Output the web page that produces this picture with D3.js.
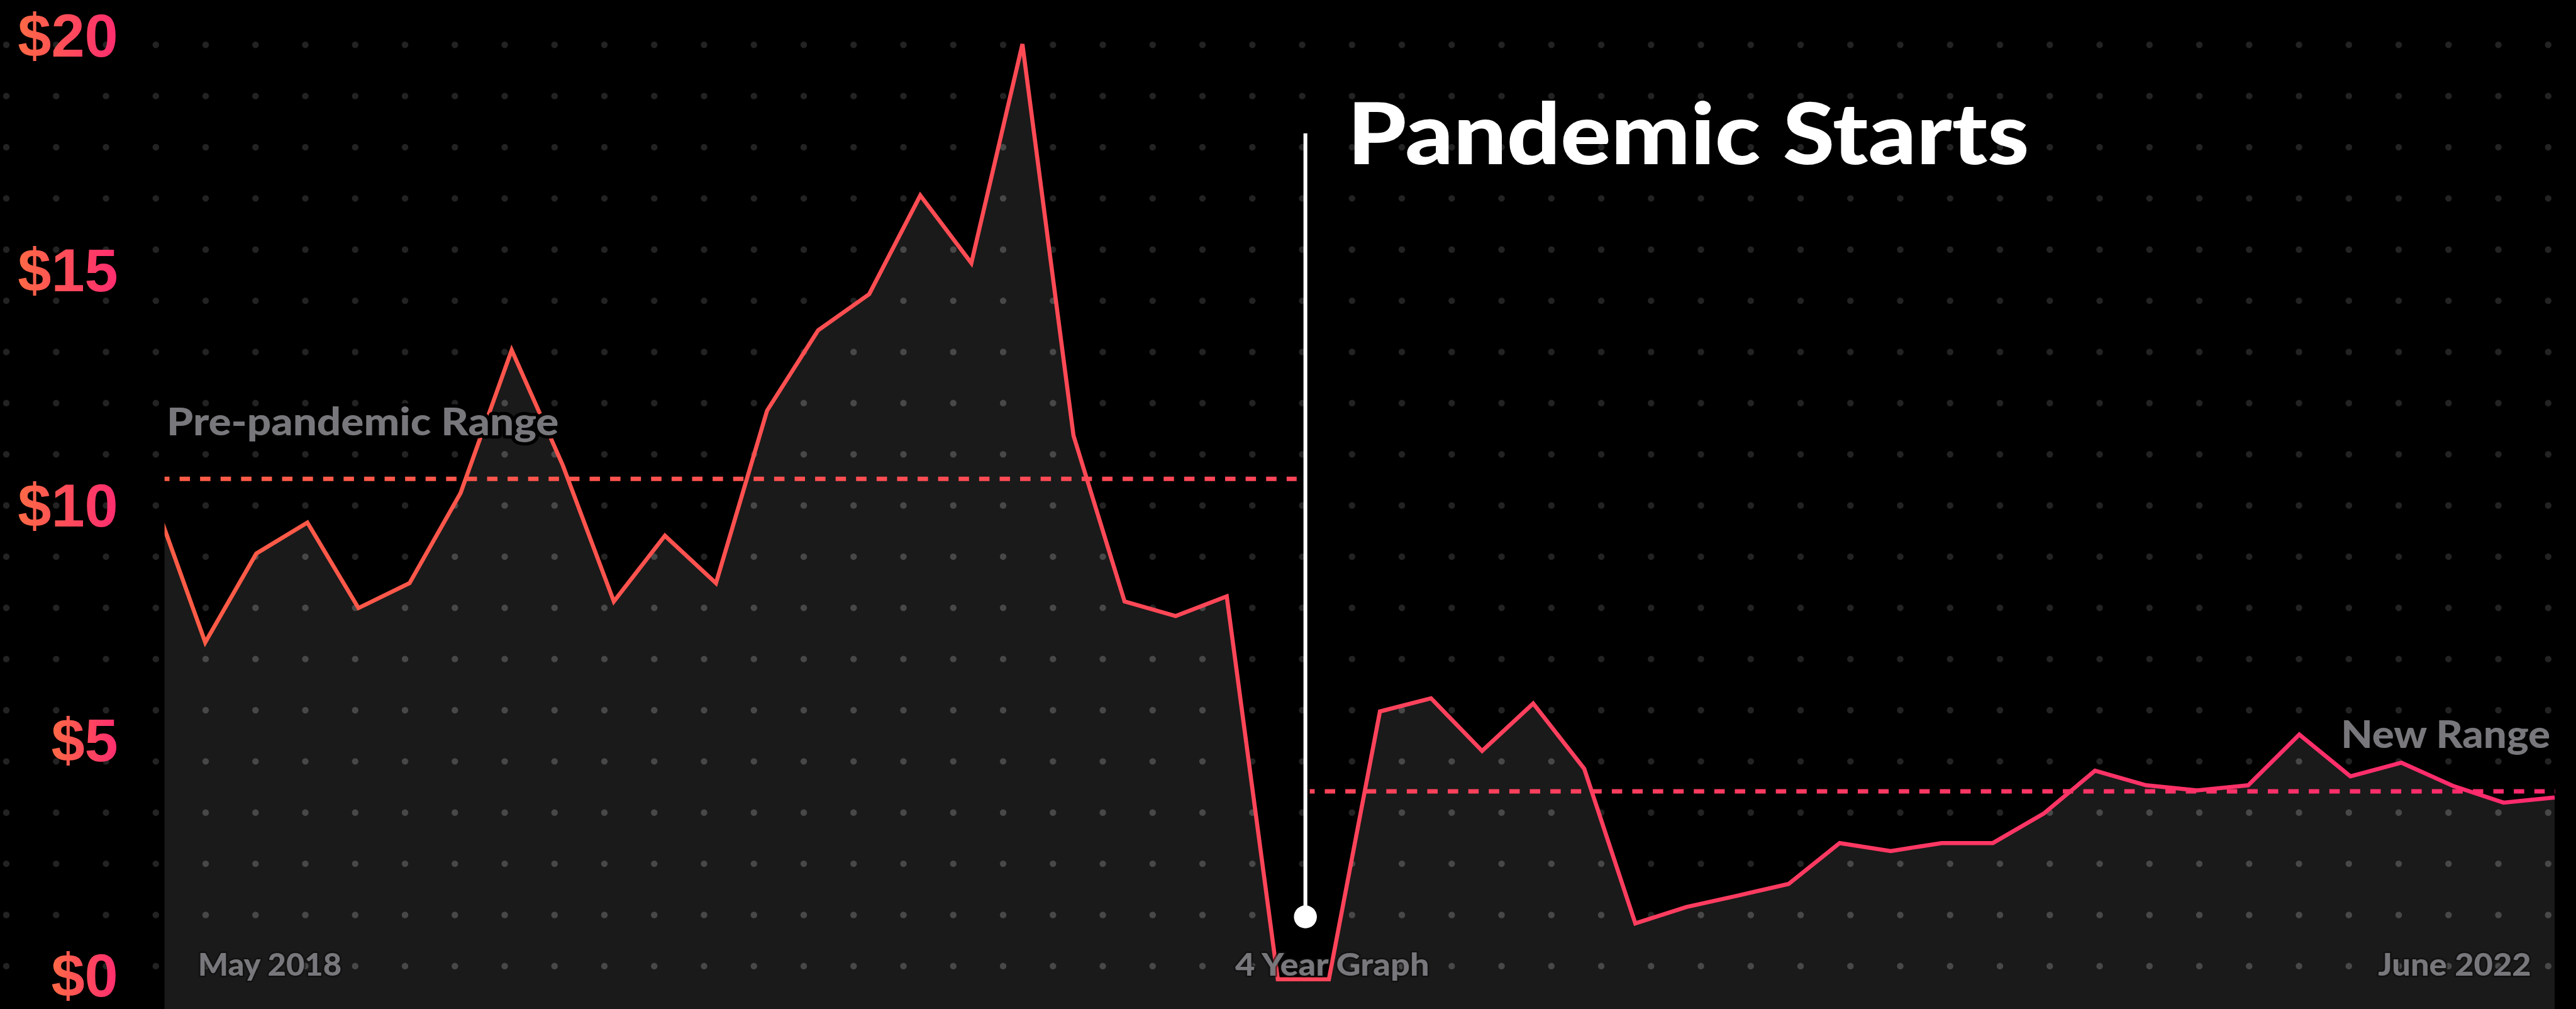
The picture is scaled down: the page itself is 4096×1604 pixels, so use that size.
<!DOCTYPE html>
<html>
<head>
<meta charset="utf-8"/>
<script src="https://d3js.org/d3.v7.min.js"></script>
<style>
body { margin: 0; background: #000; overflow: hidden; }
text { font-family: Lato, "Open Sans", sans-serif; font-weight: 900; }
text.tick { font-family: "Liberation Sans", Arial, sans-serif; font-weight: 700; }
</style>
</head>
<body>
<script>
// everything was measured on a 4712px wide picture, k scales it to the window
var width = 4096,
    height = 1604,
    k = width / 4712;

// monthly price, one point per month
var values = [10.2, 7.17, 9.06, 9.72, 7.9, 8.43, 10.35, 13.39, 10.94, 8.04,
              9.44, 8.43, 12.1, 13.81, 14.58, 16.68, 15.24, 19.9, 11.57, 8.04,
              7.73, 8.15, 0, 0, 5.7, 5.98, 4.86, 5.87, 4.48, 1.19,
              1.54, 1.78, 2.03, 2.9, 2.73, 2.9, 2.9, 3.53, 4.44, 4.13,
              4.02, 4.13, 5.21, 4.32, 4.61, 4.12, 3.76, 3.87];
var yTicks = [0, 5, 10, 15, 20];
var rangeLabels = ["Pre-pandemic Range", "New Range"];
var rangeValues = [10.65, 4.0];
var dateLabels = ["May 2018", "4 Year Graph", "June 2022"];
var pandemicIndex = 22.54,
    pandemicTop = 18,
    pandemicBottom = 1.33,
    pandemicLabel = "Pandemic Starts";

var x = d3.scaleLinear()
          .domain([0, values.length - 1])
          .range([282 * k, 4673 * k]);

var y = d3.scaleLinear()
          .domain([0, 20])
          .range([1791 * k, 72 * k]);

var plotLeft = 301 * k,
    plotRight = 4678 * k;

var svg = d3.select("body")
            .append("svg")
            .attr("width", width)
            .attr("height", height);

var defs = svg.append("defs");

// line + dashes fade from orange (left) to pink (right)
var lineGrad = defs.append("linearGradient")
                   .attr("id", "lineGrad")
                   .attr("gradientUnits", "userSpaceOnUse")
                   .attr("x1", plotLeft).attr("x2", plotRight)
                   .attr("y1", 0).attr("y2", 0);
lineGrad.append("stop").attr("offset", "0%").attr("stop-color", "#ff5c46");
lineGrad.append("stop").attr("offset", "100%").attr("stop-color", "#ff2a6e");

// same fade inside each tick label
var labelGrad = defs.append("linearGradient")
                    .attr("id", "labelGrad")
                    .attr("x1", "0%").attr("x2", "100%");
labelGrad.append("stop").attr("offset", "0%").attr("stop-color", "#ff6a45");
labelGrad.append("stop").attr("offset", "100%").attr("stop-color", "#ff2c70");

defs.append("clipPath")
    .attr("id", "plotClip")
    .append("rect")
    .attr("x", plotLeft)
    .attr("y", 0)
    .attr("width", plotRight - plotLeft)
    .attr("height", height);

var area = d3.area()
             .x(function(d, i) { return x(i); })
             .y0(height)
             .y1(function(d) { return y(d); });

var line = d3.line()
             .x(function(d, i) { return x(i); })
             .y(function(d) { return y(d); });

defs.append("clipPath")
    .attr("id", "areaClip")
    .append("path")
    .datum(values)
    .attr("d", area);

svg.append("rect")
   .attr("width", width)
   .attr("height", height)
   .attr("fill", "#000");

// dot grid
var cols = d3.range(52).map(function(i) { return (11.5 + i * 91.17) * k; }),
    rows = d3.range(19).map(function(j) { return (82 + j * 93.6) * k; });
var grid = [];
rows.forEach(function(ry) { cols.forEach(function(cx) { grid.push([cx, ry]); }); });

svg.append("g")
   .selectAll("circle")
   .data(grid)
   .enter()
   .append("circle")
   .attr("cx", function(d) { return d[0]; })
   .attr("cy", function(d) { return d[1]; })
   .attr("r", 6 * k)
   .attr("fill", "#232323");

var plot = svg.append("g").attr("clip-path", "url(#plotClip)");

plot.append("path")
    .datum(values)
    .attr("d", area)
    .attr("fill", "#1a1a1a");

// brighter dots where the area is
plot.append("g")
    .attr("clip-path", "url(#areaClip)")
    .selectAll("circle")
    .data(grid)
    .enter()
    .append("circle")
    .attr("cx", function(d) { return d[0]; })
    .attr("cy", function(d) { return d[1]; })
    .attr("r", 6 * k)
    .attr("fill", "#484848");

// range lines: before and after the pandemic marker
var px = x(pandemicIndex);
var rangeExtents = [[plotLeft, px - 16 * k], [px + 8 * k, 4674 * k]];

svg.append("g")
   .selectAll("line")
   .data(rangeValues)
   .enter()
   .append("line")
   .attr("x1", function(d, i) { return rangeExtents[i][0]; })
   .attr("x2", function(d, i) { return rangeExtents[i][1]; })
   .attr("y1", function(d) { return y(d); })
   .attr("y2", function(d) { return y(d); })
   .attr("stroke", "url(#lineGrad)")
   .attr("stroke-width", 8 * k)
   .attr("stroke-dasharray", (19 * k) + "," + (18.5 * k))
   .attr("stroke-dashoffset", 10 * k);

plot.append("path")
    .datum(values)
    .attr("d", line)
    .attr("fill", "none")
    .attr("stroke", "url(#lineGrad)")
    .attr("stroke-width", 7.5 * k)
    .attr("stroke-linejoin", "miter");

// pandemic marker
svg.append("line")
   .attr("x1", px).attr("x2", px)
   .attr("y1", y(pandemicTop))
   .attr("y2", y(pandemicBottom))
   .attr("stroke", "#fff")
   .attr("stroke-width", 7 * k);

svg.append("circle")
   .attr("cx", px)
   .attr("cy", y(pandemicBottom))
   .attr("r", 21 * k)
   .attr("fill", "#fff");

svg.append("text")
   .attr("x", px + 77 * k)
   .attr("y", 300 * k)
   .attr("font-size", 155 * k)
   .attr("textLength", 1247 * k)
   .attr("lengthAdjust", "spacingAndGlyphs")
   .attr("fill", "#fff")
   .text(pandemicLabel);

// y tick labels
svg.append("g")
   .selectAll("text")
   .data(yTicks)
   .enter()
   .append("text")
   .attr("class", "tick")
   .attr("x", 216 * k)
   .attr("y", function(d) { return y(d) + 31 * k; })
   .attr("text-anchor", "end")
   .attr("font-size", 110 * k)
   .attr("fill", "url(#labelGrad)")
   .text(function(d) { return "$" + d; });

// range labels, with a black halo so the line stops behind them
var rangeLabelX = [305 * k, 4665 * k],
    rangeLabelW = [717 * k, 383 * k];
svg.append("g")
   .selectAll("text")
   .data(rangeLabels)
   .enter()
   .append("text")
   .attr("x", function(d, i) { return rangeLabelX[i]; })
   .attr("y", function(d, i) { return y(rangeValues[i]) - 79 * k; })
   .attr("text-anchor", function(d, i) { return i === 0 ? "start" : "end"; })
   .attr("font-size", 70 * k)
   .attr("textLength", function(d, i) { return rangeLabelW[i]; })
   .attr("lengthAdjust", "spacingAndGlyphs")
   .attr("fill", "#78787c")
   .attr("stroke", "#000")
   .attr("stroke-width", 12 * k)
   .attr("stroke-linejoin", "round")
   .attr("paint-order", "stroke")
   .text(function(d) { return d; });

// date labels along the bottom
var dateX = [362 * k, 2437 * k, 4630 * k],
    dateW = [263 * k, 355 * k, 280 * k],
    dateAnchor = ["start", "middle", "end"];
svg.append("g")
   .selectAll("text")
   .data(dateLabels)
   .enter()
   .append("text")
   .attr("x", function(d, i) { return dateX[i]; })
   .attr("y", 1784 * k)
   .attr("text-anchor", function(d, i) { return dateAnchor[i]; })
   .attr("font-size", 57 * k)
   .attr("textLength", function(d, i) { return dateW[i]; })
   .attr("lengthAdjust", "spacingAndGlyphs")
   .attr("fill", "#78787c")
   .attr("stroke", "#0d0d0d")
   .attr("stroke-opacity", 0.6)
   .attr("stroke-width", 6 * k)
   .attr("stroke-linejoin", "round")
   .attr("paint-order", "stroke")
   .text(function(d) { return d; });
</script>
</body>
</html>
